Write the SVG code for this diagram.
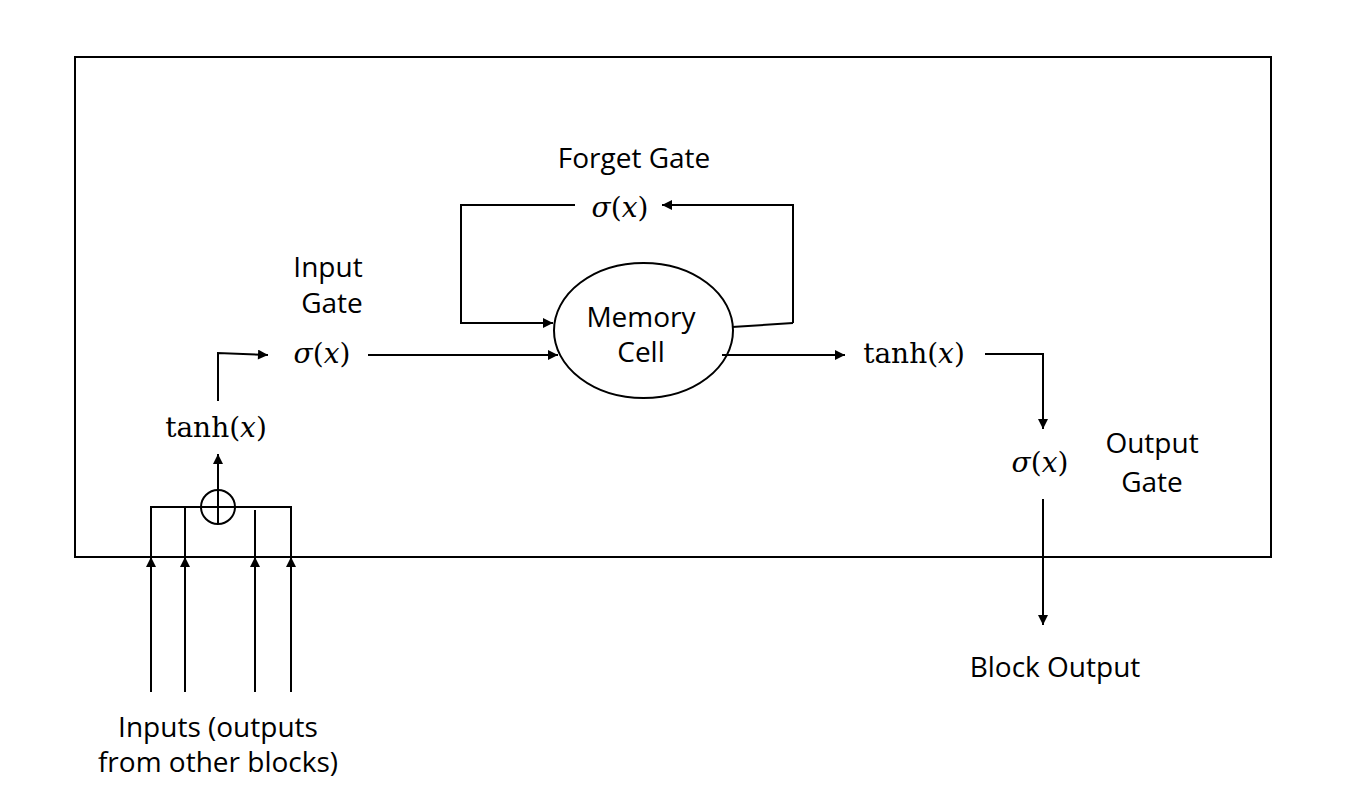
<svg xmlns="http://www.w3.org/2000/svg" width="1366" height="800" viewBox="0 0 1366 800">
<defs>
<marker id="arr" viewBox="0 0 10 10" refX="10" refY="5" markerWidth="11" markerHeight="10" markerUnits="userSpaceOnUse" orient="auto">
<path d="M0,0 L10,5 L0,10 z" fill="#000"/>
</marker>
</defs>
<style>
.ln{fill:none;stroke:#000;stroke-width:2}
.lbl{font-family:"Open Sans","Noto Sans",sans-serif;font-size:28px;fill:#000;text-anchor:middle}
.math{font-family:"DejaVu Serif","Liberation Serif",serif;font-size:28px;fill:#000;text-anchor:middle}
.it{font-style:italic}
</style>
<rect width="1366" height="800" fill="#fff"/>
<g id="block">
<rect x="75" y="57" width="1196" height="500" class="ln"/>
</g>
<g id="connectors">
<line x1="151" y1="692" x2="151" y2="557" class="ln" marker-end="url(#arr)"/>
<line x1="185" y1="692" x2="185" y2="557" class="ln" marker-end="url(#arr)"/>
<line x1="255" y1="692" x2="255" y2="557" class="ln" marker-end="url(#arr)"/>
<line x1="291" y1="692" x2="291" y2="557" class="ln" marker-end="url(#arr)"/>
<polyline points="151,557 151,507 291,507 291,557" class="ln"/>
<line x1="185" y1="507" x2="185" y2="557" class="ln"/>
<line x1="255" y1="510" x2="255" y2="557" class="ln"/>
<line x1="218" y1="490" x2="218" y2="454" class="ln" marker-end="url(#arr)"/>
<polyline points="218,401 218,353 268,355" class="ln" marker-end="url(#arr)"/>
<line x1="368" y1="355" x2="558" y2="355" class="ln" marker-end="url(#arr)"/>
<polyline points="793,323 793,205 662,205" class="ln" marker-end="url(#arr)"/>
<line x1="732" y1="327" x2="793" y2="323" class="ln"/>
<polyline points="575,205 461,205 461,323 553,323" class="ln" marker-end="url(#arr)"/>
<line x1="722" y1="355" x2="845" y2="355" class="ln" marker-end="url(#arr)"/>
<polyline points="985,354 1043,354 1043,429" class="ln" marker-end="url(#arr)"/>
<line x1="1043" y1="499" x2="1043" y2="625" class="ln" marker-end="url(#arr)"/>
</g>
<g id="sum">
<circle cx="218" cy="507" r="17" class="ln"/>
<line x1="218" y1="490" x2="218" y2="524" class="ln"/>
</g>
<g id="memory-cell">
<ellipse cx="643.5" cy="330.5" rx="89.5" ry="67.5" class="ln"/>
<text x="641" y="327" class="lbl">Memory</text>
<text x="641" y="362" class="lbl">Cell</text>
</g>
<g id="input-tanh">
<text x="216" y="437" class="math">tanh(<tspan class="it">x</tspan>)</text>
</g>
<g id="input-gate">
<text x="328" y="277" class="lbl">Input</text>
<text x="332" y="313" class="lbl">Gate</text>
<text x="322" y="363" class="math"><tspan class="it">σ</tspan>(<tspan class="it">x</tspan>)</text>
</g>
<g id="forget-gate">
<text x="634" y="168" class="lbl">Forget Gate</text>
<text x="620" y="217" class="math"><tspan class="it">σ</tspan>(<tspan class="it">x</tspan>)</text>
</g>
<g id="output-tanh">
<text x="914" y="363" class="math">tanh(<tspan class="it">x</tspan>)</text>
</g>
<g id="output-gate">
<text x="1040" y="472" class="math"><tspan class="it">σ</tspan>(<tspan class="it">x</tspan>)</text>
<text x="1152" y="453" class="lbl">Output</text>
<text x="1152" y="492" class="lbl">Gate</text>
</g>
<g id="block-output">
<text x="1055" y="677" class="lbl">Block Output</text>
</g>
<g id="inputs">
<text x="218" y="737" class="lbl">Inputs (outputs</text>
<text x="218" y="772" class="lbl">from other blocks)</text>
</g>
</svg>
